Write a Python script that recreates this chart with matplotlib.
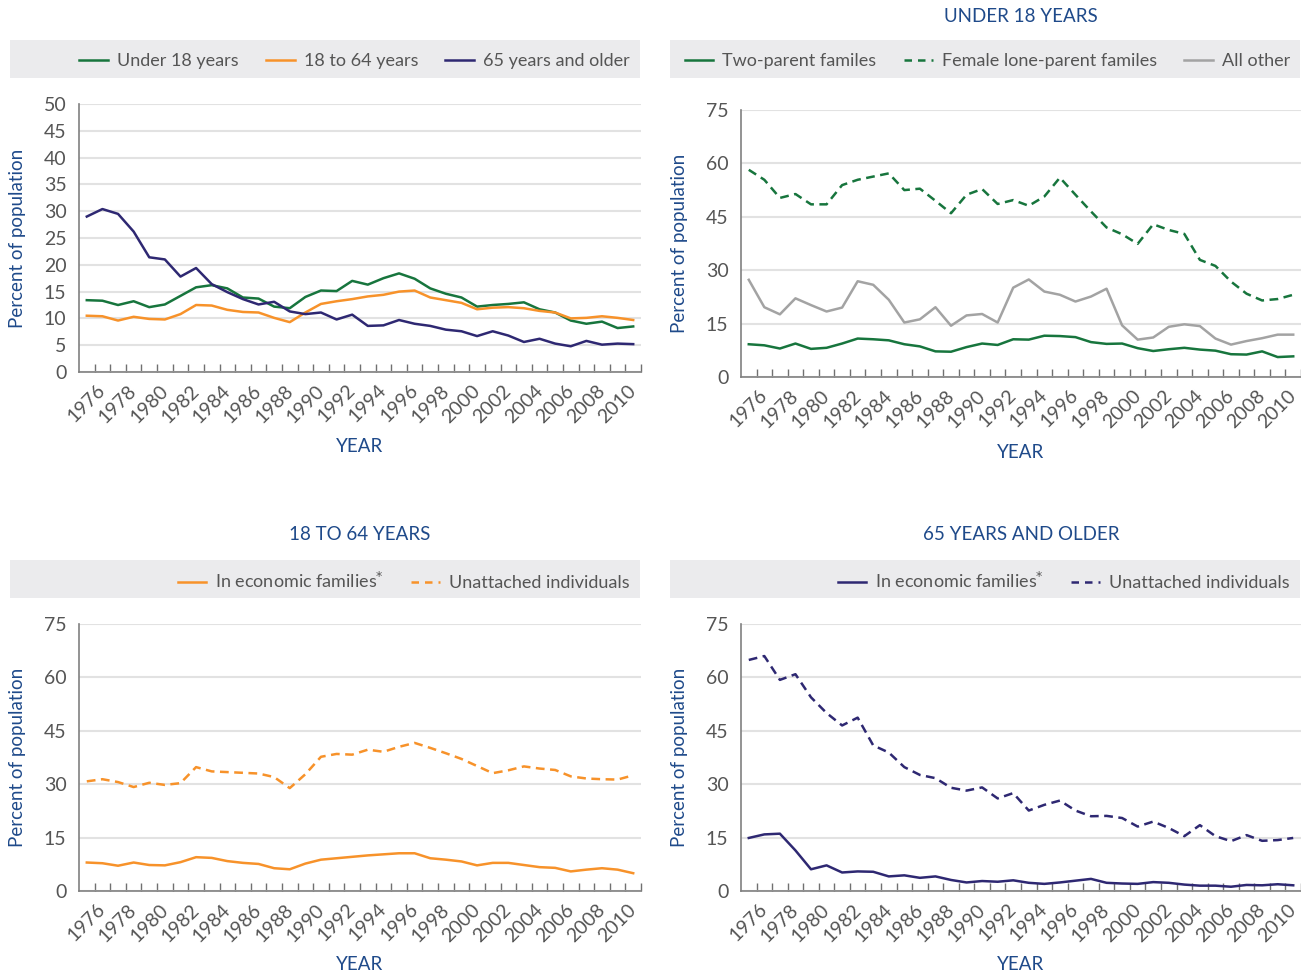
import matplotlib
matplotlib.use('Agg')
import matplotlib.pyplot as plt
from matplotlib.patches import Rectangle
from matplotlib.lines import Line2D

plt.rcParams['font.family'] = ['Lato', 'DejaVu Sans']

years = list(range(1976, 2012))
tick_labels = [str(y) for y in range(1976, 2011, 2)]

# all persons, by age group
under18 = [13.4, 13.3, 12.5, 13.2, 12.1, 12.6, 14.2, 15.8, 16.2, 15.6, 13.9, 13.7,
           12.2, 11.9, 14.0, 15.2, 15.1, 17.0, 16.3, 17.5, 18.4, 17.4, 15.6, 14.6,
           13.9, 12.2, 12.5, 12.7, 13.0, 11.7, 11.1, 9.6, 9.0, 9.4, 8.2, 8.5]
age18_64 = [10.5, 10.4, 9.6, 10.3, 9.9, 9.8, 10.8, 12.5, 12.4, 11.6, 11.2, 11.1,
            10.1, 9.3, 11.1, 12.7, 13.2, 13.6, 14.1, 14.4, 15.0, 15.2, 13.9, 13.4,
            12.9, 11.7, 12.0, 12.1, 11.9, 11.4, 11.1, 10.0, 10.1, 10.4, 10.1, 9.7]
age65plus = [29.0, 30.4, 29.5, 26.2, 21.4, 21.0, 17.8, 19.4, 16.4, 14.9, 13.6, 12.6,
             13.1, 11.3, 10.8, 11.1, 9.8, 10.7, 8.6, 8.7, 9.7, 9.0, 8.6, 7.9,
             7.6, 6.7, 7.6, 6.8, 5.6, 6.2, 5.3, 4.8, 5.8, 5.1, 5.3, 5.2]

# under 18, by family type
two_parent = [9.2, 8.9, 8.0, 9.4, 7.9, 8.2, 9.4, 10.8, 10.6, 10.3, 9.2, 8.6,
              7.2, 7.1, 8.4, 9.4, 9.0, 10.6, 10.5, 11.6, 11.5, 11.2, 9.8, 9.3,
              9.4, 8.1, 7.3, 7.8, 8.2, 7.7, 7.4, 6.4, 6.3, 7.2, 5.6, 5.8]
female_lone = [58.2, 55.4, 50.3, 51.4, 48.5, 48.5, 53.9, 55.4, 56.3, 57.2, 52.5, 52.9,
               49.5, 46.0, 51.2, 52.8, 48.6, 49.7, 48.1, 50.7, 56.0, 51.2, 46.5, 42.0,
               40.1, 37.4, 42.9, 41.3, 40.2, 32.9, 31.2, 26.8, 23.4, 21.5, 21.9, 23.1]
all_other = [27.3, 19.6, 17.6, 22.1, 20.2, 18.4, 19.5, 26.9, 25.9, 21.7, 15.3, 16.2,
             19.6, 14.4, 17.3, 17.7, 15.3, 25.1, 27.4, 24.0, 23.1, 21.2, 22.6, 24.8,
             14.5, 10.5, 11.1, 14.1, 14.8, 14.3, 10.8, 9.1, 10.1, 10.9, 11.9, 11.9]

# 18 to 64
adult_fam = [8.0, 7.8, 7.1, 8.0, 7.3, 7.2, 8.1, 9.5, 9.3, 8.4, 7.9, 7.6,
             6.4, 6.1, 7.7, 8.8, 9.2, 9.6, 10.0, 10.3, 10.6, 10.6, 9.2, 8.8,
             8.3, 7.2, 7.9, 7.9, 7.3, 6.7, 6.5, 5.5, 6.0, 6.4, 6.0, 5.0]
adult_unatt = [30.8, 31.4, 30.6, 29.2, 30.4, 29.8, 30.3, 34.8, 33.6, 33.4, 33.2, 33.0,
               32.0, 28.9, 32.8, 37.7, 38.5, 38.3, 39.7, 39.1, 40.5, 41.6, 40.2, 38.7,
               37.1, 35.1, 33.1, 33.9, 35.0, 34.4, 34.0, 32.2, 31.6, 31.4, 31.3, 32.5]

# 65 and older
senior_fam = [14.9, 15.9, 16.1, 11.4, 6.1, 7.2, 5.2, 5.5, 5.4, 4.1, 4.4, 3.7,
              4.1, 3.1, 2.4, 2.8, 2.6, 3.0, 2.3, 2.0, 2.4, 2.9, 3.4, 2.3,
              2.1, 2.0, 2.5, 2.3, 1.8, 1.5, 1.5, 1.2, 1.7, 1.6, 1.9, 1.6]
senior_unatt = [64.9, 66.0, 59.3, 60.9, 54.4, 50.0, 46.5, 48.7, 40.9, 38.9, 34.8, 32.6,
                31.7, 29.0, 28.2, 29.1, 26.0, 27.5, 22.6, 24.2, 25.4, 22.6, 21.0, 21.1,
                20.5, 18.1, 19.5, 17.7, 15.4, 18.5, 15.4, 14.0, 15.7, 14.1, 14.3, 14.9]

GREEN = '#17753d'
ORANGE = '#f7922a'
NAVY = '#2e2872'
GRAY = '#a3a3a3'
BLUE = '#1f4a8a'
TXT = '#555555'
DASH = (0, (3.5, 2.2))
LEG_DASH = (0, (3, 2.4))

W, H = 1301, 976
fig = plt.figure(figsize=(W / 100, H / 100), dpi=100)


def px_rect(x0, y0, x1, y1):
    # pixel box (y from top) -> figure fraction rect
    return [x0 / W, 1 - y1 / H, (x1 - x0) / W, (y1 - y0) / H]


def make_axes(x0, y0, x1, y1, ymax, step):
    ax = fig.add_axes(px_rect(x0, y0, x1, y1))
    x = list(range(len(years)))
    ax.set_xlim(-0.5, len(years) - 0.5)
    ax.set_ylim(0, ymax)
    ax.set_yticks(range(0, ymax + 1, step))
    ax.set_xticks(x[::2])
    ax.set_xticklabels(tick_labels, rotation=45, ha='center', va='top')
    ax.set_xticks([i + 0.5 for i in x], minor=True)
    ax.tick_params(axis='x', which='major', length=0, pad=7, labelsize=14, labelcolor=TXT)
    ax.tick_params(axis='x', which='minor', direction='in', length=6, width=1, color='#707070')
    ax.tick_params(axis='y', length=0, pad=9, labelsize=14, labelcolor=TXT)
    ax.grid(axis='y', color='#e2e2e2', linewidth=1.5)
    ax.set_axisbelow(True)
    for s in ['top', 'right']:
        ax.spines[s].set_visible(False)
    for s in ['left', 'bottom']:
        ax.spines[s].set_color('#808080')
        ax.spines[s].set_linewidth(1.2)
    return ax, x


def legend_band(x0, y0, x1, y1, handles, labels, right):
    fig.patches.append(Rectangle((x0 / W, 1 - y1 / H), (x1 - x0) / W, (y1 - y0) / H,
                                 transform=fig.transFigure, facecolor='#ebebed',
                                 edgecolor='none', zorder=0))
    fig.legend(handles, labels, loc='center right',
               bbox_to_anchor=(right / W, 1 - ((y0 + y1) / 2 + 2) / H),
               ncol=len(handles), frameon=False, fontsize=13, labelcolor=TXT,
               handlelength=1.6, handletextpad=0.5, columnspacing=1.5,
               borderaxespad=0, borderpad=0)


def side_labels(xl, yc, xc, yy, title=None, yt=None):
    fig.text(xl / W, 1 - yc / H, 'Percent of population', rotation=90,
             ha='center', va='center', color=BLUE, fontsize=13.5)
    fig.text(xc / W, 1 - yy / H, 'YEAR', ha='center', va='center', color=BLUE, fontsize=13.5)
    if title:
        fig.text(xc / W, 1 - yt / H, title, ha='center', va='center', color=BLUE, fontsize=13.5)


lw = 1.8

# panel 1: by age group
ax1, x = make_axes(79, 104, 641, 372, 50, 5)
ax1.plot(x, under18, color=GREEN, lw=lw)
ax1.plot(x, age18_64, color=ORANGE, lw=lw)
ax1.plot(x, age65plus, color=NAVY, lw=lw)
legend_band(10, 40, 640, 78,
            [Line2D([], [], color=c, lw=lw) for c in (GREEN, ORANGE, NAVY)],
            ['Under 18 years', '18 to 64 years', '65 years and older'], 630)
side_labels(18, 238, 360, 447)

# panel 2: under 18
ax2, x = make_axes(741, 110, 1301, 377, 75, 15)
ax2.plot(x, two_parent, color=GREEN, lw=lw)
ax2.plot(x, female_lone, color=GREEN, lw=lw, linestyle=DASH)
ax2.plot(x, all_other, color=GRAY, lw=lw)
legend_band(670, 40, 1300, 78,
            [Line2D([], [], color=GREEN, lw=lw),
             Line2D([], [], color=GREEN, lw=lw, linestyle=LEG_DASH),
             Line2D([], [], color=GRAY, lw=lw)],
            ['Two-parent familes', 'Female lone-parent familes', 'All other'], 1290)
side_labels(679, 243, 1021, 452, 'UNDER 18 YEARS', 16)

# panel 3: 18 to 64
ax3, x = make_axes(79, 624, 641, 891, 75, 15)
ax3.plot(x, adult_fam, color=ORANGE, lw=lw)
ax3.plot(x, adult_unatt, color=ORANGE, lw=lw, linestyle=DASH)
legend_band(10, 560, 640, 598,
            [Line2D([], [], color=ORANGE, lw=lw),
             Line2D([], [], color=ORANGE, lw=lw, linestyle=LEG_DASH)],
            ['In economic families$^{*}$', 'Unattached individuals'], 630)
side_labels(18, 757, 360, 965, '18 TO 64 YEARS', 535)

# panel 4: 65 and older
ax4, x = make_axes(741, 624, 1301, 891, 75, 15)
ax4.plot(x, senior_fam, color=NAVY, lw=lw)
ax4.plot(x, senior_unatt, color=NAVY, lw=lw, linestyle=DASH)
legend_band(670, 560, 1300, 598,
            [Line2D([], [], color=NAVY, lw=lw),
             Line2D([], [], color=NAVY, lw=lw, linestyle=LEG_DASH)],
            ['In economic families$^{*}$', 'Unattached individuals'], 1290)
side_labels(679, 757, 1021, 965, '65 YEARS AND OLDER', 535)

fig.savefig('out.png', dpi=100)
